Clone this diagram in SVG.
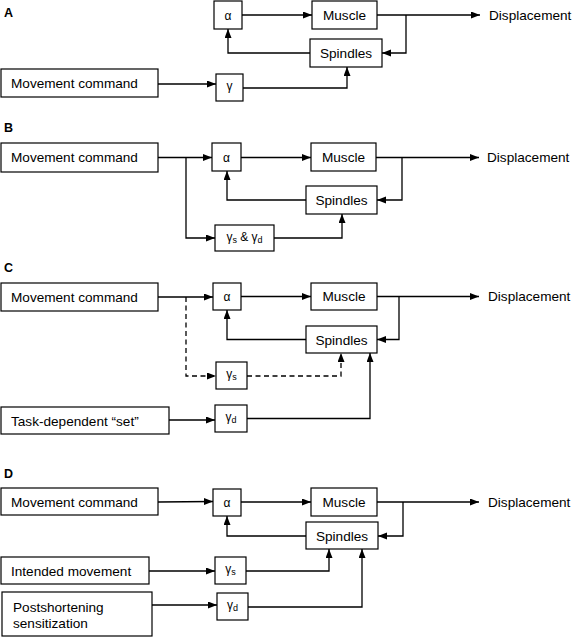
<svg xmlns="http://www.w3.org/2000/svg" width="574" height="637" viewBox="0 0 574 637">
<defs>
<marker id="ah" markerUnits="userSpaceOnUse" markerWidth="10" markerHeight="8" refX="9" refY="3.5" orient="auto">
<path d="M0,0 L9,3.5 L0,7 z" fill="#000"/>
</marker>
<style>
.box{fill:#fff;stroke:#000;stroke-width:1.2}
.t{font-family:"Liberation Sans",Arial,sans-serif;font-size:13.6px;fill:#000}
.c{text-anchor:middle}
.g{font-family:"Liberation Sans",Arial,sans-serif;font-size:12px;fill:#000;text-anchor:middle}
.sub{font-size:9px}
.lab{font-family:"Liberation Sans",Arial,sans-serif;font-size:12.5px;font-weight:bold;fill:#000}
.ln{fill:none;stroke:#000;stroke-width:1.3;marker-end:url(#ah)}
.pl{fill:none;stroke:#000;stroke-width:1.3}
.d{stroke-dasharray:5,3.5}
</style>
</defs>
<rect width="574" height="637" fill="#fff"/>

<!-- Panel labels -->
<text class="lab" x="4" y="17">A</text>
<text class="lab" x="4" y="132">B</text>
<text class="lab" x="4" y="272">C</text>
<text class="lab" x="4" y="478">D</text>

<g id="connectors">
<!-- A -->
<path class="ln" d="M242,15 H312"/>
<path class="ln" d="M377,15 H480"/>
<path class="ln" d="M406,15 V53 H382"/>
<path class="ln" d="M310,53 H228 V29"/>
<path class="ln" d="M158,84 H216"/>
<path class="ln" d="M243,88 H347 V67"/>
<!-- B -->
<path class="ln" d="M158,157.5 H212"/>
<path class="ln" d="M186,157.5 V238 H215"/>
<path class="ln" d="M241,157.5 H311"/>
<path class="ln" d="M376,157.5 H479"/>
<path class="ln" d="M402,157.5 V200 H377"/>
<path class="ln" d="M306,200 H227 V171"/>
<path class="ln" d="M274,238 H342 V214"/>
<!-- C -->
<path class="ln" d="M158,297 H213"/>
<path class="ln d" d="M186,297 V376 H216"/>
<path class="ln" d="M241,296.5 H311"/>
<path class="ln" d="M377,296.5 H479"/>
<path class="ln" d="M399,296.5 V339.5 H377"/>
<path class="ln" d="M306,339.5 H227 V310"/>
<path class="ln d" d="M247,376 H341 V353"/>
<path class="ln" d="M169,420 H215"/>
<path class="ln" d="M247,418.5 H370 V353"/>
<!-- D -->
<path class="ln" d="M158,502 L213,501.5"/>
<path class="ln" d="M241,502 H311"/>
<path class="ln" d="M377,502 H479"/>
<path class="ln" d="M403,502 V536 H378"/>
<path class="ln" d="M306,536 H227 V516"/>
<path class="ln" d="M149,571 H215"/>
<path class="ln" d="M246,571 H329 V549"/>
<path class="ln" d="M152,605 H217"/>
<path class="ln" d="M248,607 H362 V549"/>
</g>

<!-- Panel A nodes -->
<g id="A-alpha"><rect class="box" x="214" y="1" width="28" height="28"/><text class="g" x="228" y="20">α</text></g>
<g id="A-muscle"><rect class="box" x="312" y="1" width="65" height="28"/><text class="t c" x="344.5" y="20">Muscle</text></g>
<g id="A-spindles"><rect class="box" x="310" y="39" width="72" height="28"/><text class="t c" x="346" y="58">Spindles</text></g>
<g id="A-command"><rect class="box" x="1" y="69" width="157" height="28"/><text class="t" x="11" y="88">Movement command</text></g>
<g id="A-gamma"><rect class="box" x="216" y="74" width="27" height="27"/><text class="g" x="229.5" y="90">γ</text></g>
<g id="A-disp"><text class="t" x="489" y="20">Displacement</text></g>

<!-- Panel B nodes -->
<g id="B-command"><rect class="box" x="1" y="143" width="157" height="29"/><text class="t" x="11" y="162">Movement command</text></g>
<g id="B-alpha"><rect class="box" x="212" y="143" width="29" height="28"/><text class="g" x="226.5" y="162">α</text></g>
<g id="B-muscle"><rect class="box" x="311" y="143" width="65" height="28"/><text class="t c" x="343.5" y="162">Muscle</text></g>
<g id="B-spindles"><rect class="box" x="306" y="186" width="71" height="28"/><text class="t c" x="341.5" y="205">Spindles</text></g>
<g id="B-gamma"><rect class="box" x="215" y="225" width="59" height="26"/><text class="g" x="244.5" y="241">γ<tspan class="sub" dy="2">s</tspan><tspan dy="-2"> &amp; γ</tspan><tspan class="sub" dy="2">d</tspan></text></g>
<g id="B-disp"><text class="t" x="487" y="162">Displacement</text></g>

<!-- Panel C nodes -->
<g id="C-command"><rect class="box" x="1" y="283" width="157" height="28"/><text class="t" x="11" y="302">Movement command</text></g>
<g id="C-alpha"><rect class="box" x="213" y="283" width="28" height="27"/><text class="g" x="227" y="301">α</text></g>
<g id="C-muscle"><rect class="box" x="311" y="283" width="66" height="27"/><text class="t c" x="344" y="301">Muscle</text></g>
<g id="C-spindles"><rect class="box" x="306" y="326" width="71" height="27"/><text class="t c" x="341.5" y="344.5">Spindles</text></g>
<g id="C-gs"><rect class="box" x="216" y="362" width="31" height="27"/><text class="g" x="231.5" y="378">γ<tspan class="sub" dy="2">s</tspan></text></g>
<g id="C-task"><rect class="box" x="1" y="407" width="168" height="27"/><text class="t" x="11" y="425.5">Task-dependent “set”</text></g>
<g id="C-gd"><rect class="box" x="215" y="405" width="32" height="27"/><text class="g" x="231" y="421">γ<tspan class="sub" dy="2">d</tspan></text></g>
<g id="C-disp"><text class="t" x="488" y="301">Displacement</text></g>

<!-- Panel D nodes -->
<g id="D-command"><rect class="box" x="1" y="488" width="157" height="27"/><text class="t" x="11" y="506.5">Movement command</text></g>
<g id="D-alpha"><rect class="box" x="213" y="489" width="28" height="27"/><text class="g" x="227" y="507">α</text></g>
<g id="D-muscle"><rect class="box" x="311" y="488" width="66" height="28"/><text class="t c" x="344" y="507">Muscle</text></g>
<g id="D-spindles"><rect class="box" x="306" y="522" width="72" height="27"/><text class="t c" x="342" y="540.5">Spindles</text></g>
<g id="D-intended"><rect class="box" x="1" y="557" width="148" height="27"/><text class="t" x="11" y="575.5">Intended movement</text></g>
<g id="D-gs"><rect class="box" x="215" y="557" width="31" height="27"/><text class="g" x="230.5" y="573">γ<tspan class="sub" dy="2">s</tspan></text></g>
<g id="D-post"><rect class="box" x="2" y="592" width="150" height="44"/><text class="t" x="13" y="611.5">Postshortening</text><text class="t" x="13" y="628">sensitization</text></g>
<g id="D-gd"><rect class="box" x="217" y="593" width="31" height="27"/><text class="g" x="232.5" y="609">γ<tspan class="sub" dy="2">d</tspan></text></g>
<g id="D-disp"><text class="t" x="488" y="507">Displacement</text></g>
</svg>
